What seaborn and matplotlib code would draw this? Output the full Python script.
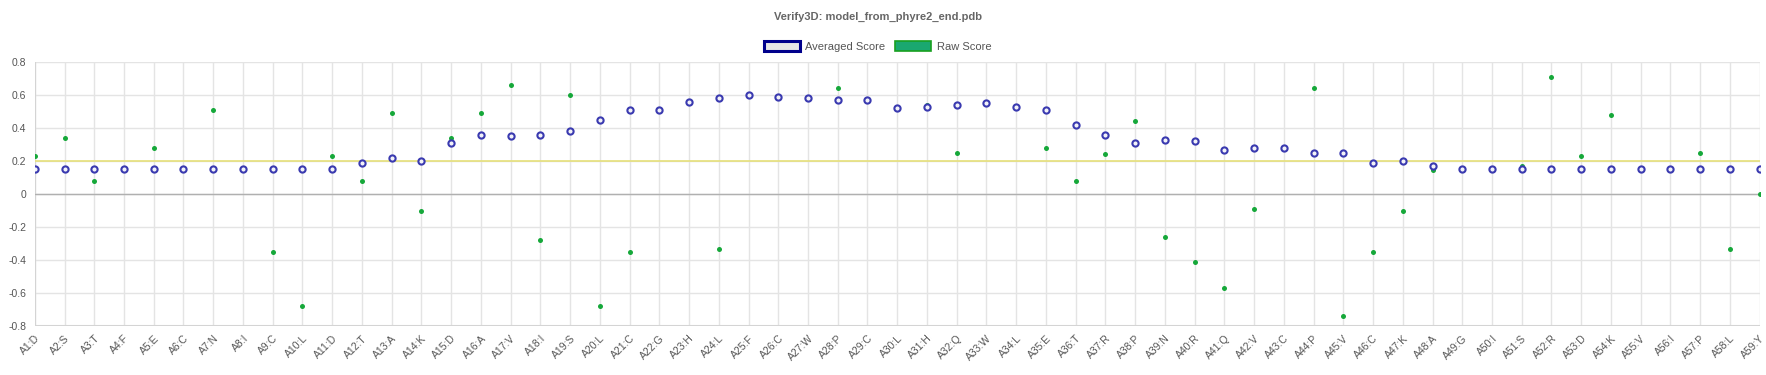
# Verify3D averaged / raw score chart

import seaborn as sns
import matplotlib.pyplot as plt
import pandas as pd
from matplotlib.patches import Patch

residues = ['D', 'S', 'T', 'F', 'E', 'C', 'N', 'I', 'C', 'L',
            'D', 'T', 'A', 'K', 'D', 'A', 'V', 'I', 'S', 'L',
            'C', 'G', 'H', 'L', 'F', 'C', 'W', 'P', 'C', 'L',
            'H', 'Q', 'W', 'L', 'E', 'T', 'R', 'P', 'N', 'R',
            'Q', 'V', 'C', 'P', 'V', 'C', 'K', 'A', 'G', 'I',
            'S', 'R', 'D', 'K', 'V', 'I', 'P', 'L', 'Y']
labels = [f'A{i + 1}:{r}' for i, r in enumerate(residues)]

averaged = [0.15, 0.15, 0.15, 0.15, 0.15, 0.15, 0.15, 0.15, 0.15, 0.15,
            0.15, 0.19, 0.22, 0.20, 0.31, 0.36, 0.35, 0.36, 0.38, 0.45,
            0.51, 0.51, 0.56, 0.58, 0.60, 0.59, 0.58, 0.57, 0.57, 0.52,
            0.53, 0.54, 0.55, 0.53, 0.51, 0.42, 0.36, 0.31, 0.33, 0.32,
            0.27, 0.28, 0.28, 0.25, 0.25, 0.19, 0.20, 0.17, 0.15, 0.15,
            0.15, 0.15, 0.15, 0.15, 0.15, 0.15, 0.15, 0.15, 0.15]

raw = [0.23, 0.34, 0.08, 0.15, 0.28, 0.15, 0.51, 0.15, -0.35, -0.68,
       0.23, 0.08, 0.49, -0.10, 0.34, 0.49, 0.66, -0.28, 0.60, -0.68,
       -0.35, 0.51, 0.56, -0.33, 0.60, 0.59, 0.58, 0.64, 0.57, 0.52,
       0.54, 0.25, 0.55, 0.53, 0.28, 0.08, 0.24, 0.44, -0.26, -0.41,
       -0.57, -0.09, 0.28, 0.64, -0.74, -0.35, -0.10, 0.145, 0.15, 0.15,
       0.17, 0.71, 0.23, 0.48, 0.15, 0.15, 0.25, -0.33, 0.00]

df = pd.DataFrame({'residue': labels, 'averaged': averaged, 'raw': raw})

sns.set_style('white')
plt.rcParams['font.family'] = ['Liberation Sans', 'DejaVu Sans']

fig = plt.figure(figsize=(17.66, 3.75), dpi=100)
ax = fig.add_axes([0.0197, 0.1299, 0.9767, 0.7048])

sns.scatterplot(data=df, x='residue', y='raw', ax=ax, color='#16a83a',
                s=13, linewidth=0, zorder=3)
sns.scatterplot(data=df, x='residue', y='averaged', ax=ax, facecolor='#f2f2f8',
                edgecolor='#3a3ab0', s=20, linewidth=1.5, zorder=4)

ax.set_xlim(0, len(labels) - 1)
ax.set_ylim(-0.8, 0.8)
ax.set_yticks([-0.8, -0.6, -0.4, -0.2, 0, 0.2, 0.4, 0.6, 0.8])
ax.set_yticklabels(['-0.8', '-0.6', '-0.4', '-0.2', '0', '0.2', '0.4', '0.6', '0.8'])
ax.set_xticks(range(len(labels)))
ax.set_xticklabels(labels, rotation=45, ha='right', rotation_mode='anchor')
ax.tick_params(axis='both', labelsize=7.5, colors='#555555', length=0)
ax.tick_params(axis='y', pad=6)
ax.tick_params(axis='x', pad=5)
ax.set_xlabel('')
ax.set_ylabel('')

ax.grid(True, color='#e4e4e4', linewidth=1)
ax.set_axisbelow(True)
for s in ax.spines.values():
    s.set_visible(False)
ax.axvline(0, color='#d4d4d4', linewidth=1.5, zorder=1)
ax.axhline(-0.8, color='#d4d4d4', linewidth=1.5, zorder=1)
ax.axhline(0, color='#b0b0b0', linewidth=1, zorder=2)
ax.axhline(0.2, color='#e6e07a', linewidth=1.2, zorder=2)

fig.text(0.497, 0.955, 'Verify3D: model_from_phyre2_end.pdb', ha='center', va='center',
         fontsize=8, fontweight='bold', color='#666666')

handles = [Patch(facecolor='#e6e6e6', edgecolor='#00008b', linewidth=2.2),
           Patch(facecolor='#1aa870', edgecolor='#18a020', linewidth=1.2)]
fig.legend(handles, ['Averaged Score', 'Raw Score'], loc='center', bbox_to_anchor=(0.497, 0.877),
           ncol=2, frameon=False, fontsize=8, handlelength=3.2, handleheight=1.1,
           columnspacing=0.9, handletextpad=0.5, labelcolor='#555555')

plt.savefig('out.png', dpi=100)
